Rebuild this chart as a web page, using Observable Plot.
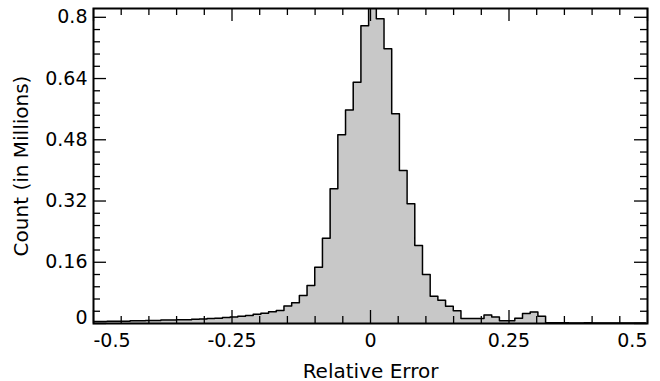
<!DOCTYPE html>
<html><head><meta charset="utf-8">
<script src="https://cdn.jsdelivr.net/npm/d3@7"></script>
<script src="https://cdn.jsdelivr.net/npm/@observablehq/plot@0.6"></script>
<style>body{margin:0;background:#fff} svg{display:block}</style>
</head><body><div id="chart"></div>
<script>
// Histogram bins: regular bins starting at binStart, width binWidth
const binStart = -0.5034;
const binWidth = 1 / 72;
const counts = [
  0.005, 0.005, 0.006, 0.006, 0.006, 0.007, 0.007, 0.008, 0.008, 0.009,
  0.009, 0.010, 0.010, 0.011, 0.012, 0.013, 0.014, 0.016, 0.017, 0.019,
  0.021, 0.024, 0.027, 0.031, 0.034, 0.046, 0.054, 0.073, 0.099, 0.147,
  0.223, 0.352, 0.493, 0.558, 0.630, 0.778, 0.870, 0.796, 0.718, 0.548,
  0.400, 0.313, 0.204, 0.128, 0.071, 0.061, 0.045, 0.033, 0.013, 0.013,
  0.013, 0.022, 0.017, 0.007, 0.007, 0.014, 0.026, 0.030, 0.019, 0.002,
  0.002, 0.002, 0.001, 0.001, 0.002, 0.001, 0.001, 0.001, 0.001, 0.001,
  0.001, 0.001
];
const xMajor = [-0.5, -0.25, 0, 0.25, 0.5];
const xMajorLabels = ["-0.5", "-0.25", "0", "0.25", "0.5"];
const xMinor = [-0.45, -0.4, -0.35, -0.3, -0.2, -0.15, -0.1, -0.05, 0.05, 0.1, 0.15, 0.2, 0.3, 0.35, 0.4, 0.45];
const yMajor = [0, 0.16, 0.32, 0.48, 0.64, 0.8];
const yMajorLabels = ["0", "0.16", "0.32", "0.48", "0.64", "0.8"];
const yMinor = [0.032, 0.064, 0.096, 0.128, 0.192, 0.224, 0.256, 0.288, 0.352, 0.384, 0.416, 0.448, 0.512, 0.544, 0.576, 0.608, 0.672, 0.704, 0.736, 0.768];
const xLabel = "Relative Error";
const yLabel = "Count (in Millions)";

// layout
const W = 660, H = 381, mL = 93, mR = 13, mT = 8, mB = 58;
const fw = W - mL - mR, fh = H - mT - mB;
const majorLen = 13, minorLen = 7;
const font = "DejaVu Sans";

const pts = counts.map((c, i) => ({x: binStart + i * binWidth, y: c}));
pts.push({x: binStart + counts.length * binWidth, y: counts[counts.length - 1]});

const xTable = xMajor.map((v, i) => ({v, label: xMajorLabels[i]}));
const yTable = yMajor.map((v, i) => ({v, label: yMajorLabels[i]}));
const last = xTable.length - 1;

const tickStyle = {stroke: "black", strokeWidth: 1.3};

const chart = Plot.plot({
  width: W, height: H,
  marginLeft: mL, marginRight: mR, marginTop: mT, marginBottom: mB,
  style: {fontFamily: font, background: "white", color: "black"},
  x: {domain: [-0.5, 0.5], axis: null},
  y: {domain: [0, 0.823], axis: null},
  marks: [
    Plot.areaY(pts, {x: "x", y: "y", curve: "step-after", fill: "#c8c8c8", clip: true}),
    Plot.lineY(pts, {x: "x", y: "y", curve: "step-after", stroke: "black", strokeWidth: 1.5, clip: true}),
    // bottom ticks
    Plot.tickX(xMajor, {x: d => d, insetTop: fh - majorLen, ...tickStyle}),
    Plot.tickX(xMinor, {x: d => d, insetTop: fh - minorLen, ...tickStyle}),
    // top ticks
    Plot.tickX(xMajor, {x: d => d, insetBottom: fh - majorLen, ...tickStyle}),
    Plot.tickX(xMinor, {x: d => d, insetBottom: fh - minorLen, ...tickStyle}),
    // left ticks
    Plot.tickY(yMajor, {y: d => d, insetRight: fw - majorLen, ...tickStyle}),
    Plot.tickY(yMinor, {y: d => d, insetRight: fw - minorLen, ...tickStyle}),
    // right ticks
    Plot.tickY(yMajor, {y: d => d, insetLeft: fw - majorLen, ...tickStyle}),
    Plot.tickY(yMinor, {y: d => d, insetLeft: fw - minorLen, ...tickStyle}),
    Plot.frame({stroke: "black", strokeWidth: 2}),
    // x tick labels
    Plot.text(xTable.filter((d, i) => i > 0 && i < last), {x: "v", text: "label", frameAnchor: "bottom", dy: 10, lineAnchor: "top", fontSize: 19, fill: "black"}),
    Plot.text(xTable.filter((d, i) => i === 0), {x: "v", text: "label", frameAnchor: "bottom", dy: 10, lineAnchor: "top", textAnchor: "start", fontSize: 19, fill: "black"}),
    Plot.text(xTable.filter((d, i) => i === last), {x: "v", text: "label", frameAnchor: "bottom", dy: 10, lineAnchor: "top", textAnchor: "end", fontSize: 19, fill: "black"}),
    // y tick labels
    Plot.text(yTable.filter(d => d.v !== 0), {y: "v", text: "label", frameAnchor: "left", dx: -6, textAnchor: "end", lineAnchor: "middle", fontSize: 19, fill: "black"}),
    Plot.text(yTable.filter(d => d.v === 0), {y: "v", text: "label", frameAnchor: "left", dx: -6, textAnchor: "end", lineAnchor: "bottom", fontSize: 19, fill: "black"}),
    // axis titles
    Plot.text([xLabel], {text: d => d, frameAnchor: "bottom", dy: 54, lineAnchor: "bottom", textAnchor: "middle", fontSize: 20, fill: "black"}),
    Plot.text([yLabel], {text: d => d, frameAnchor: "left", dx: -72, rotate: -90, textAnchor: "middle", lineAnchor: "middle", fontSize: 20, fill: "black"})
  ]
});
document.getElementById("chart").appendChild(chart);
</script>
</body></html>
